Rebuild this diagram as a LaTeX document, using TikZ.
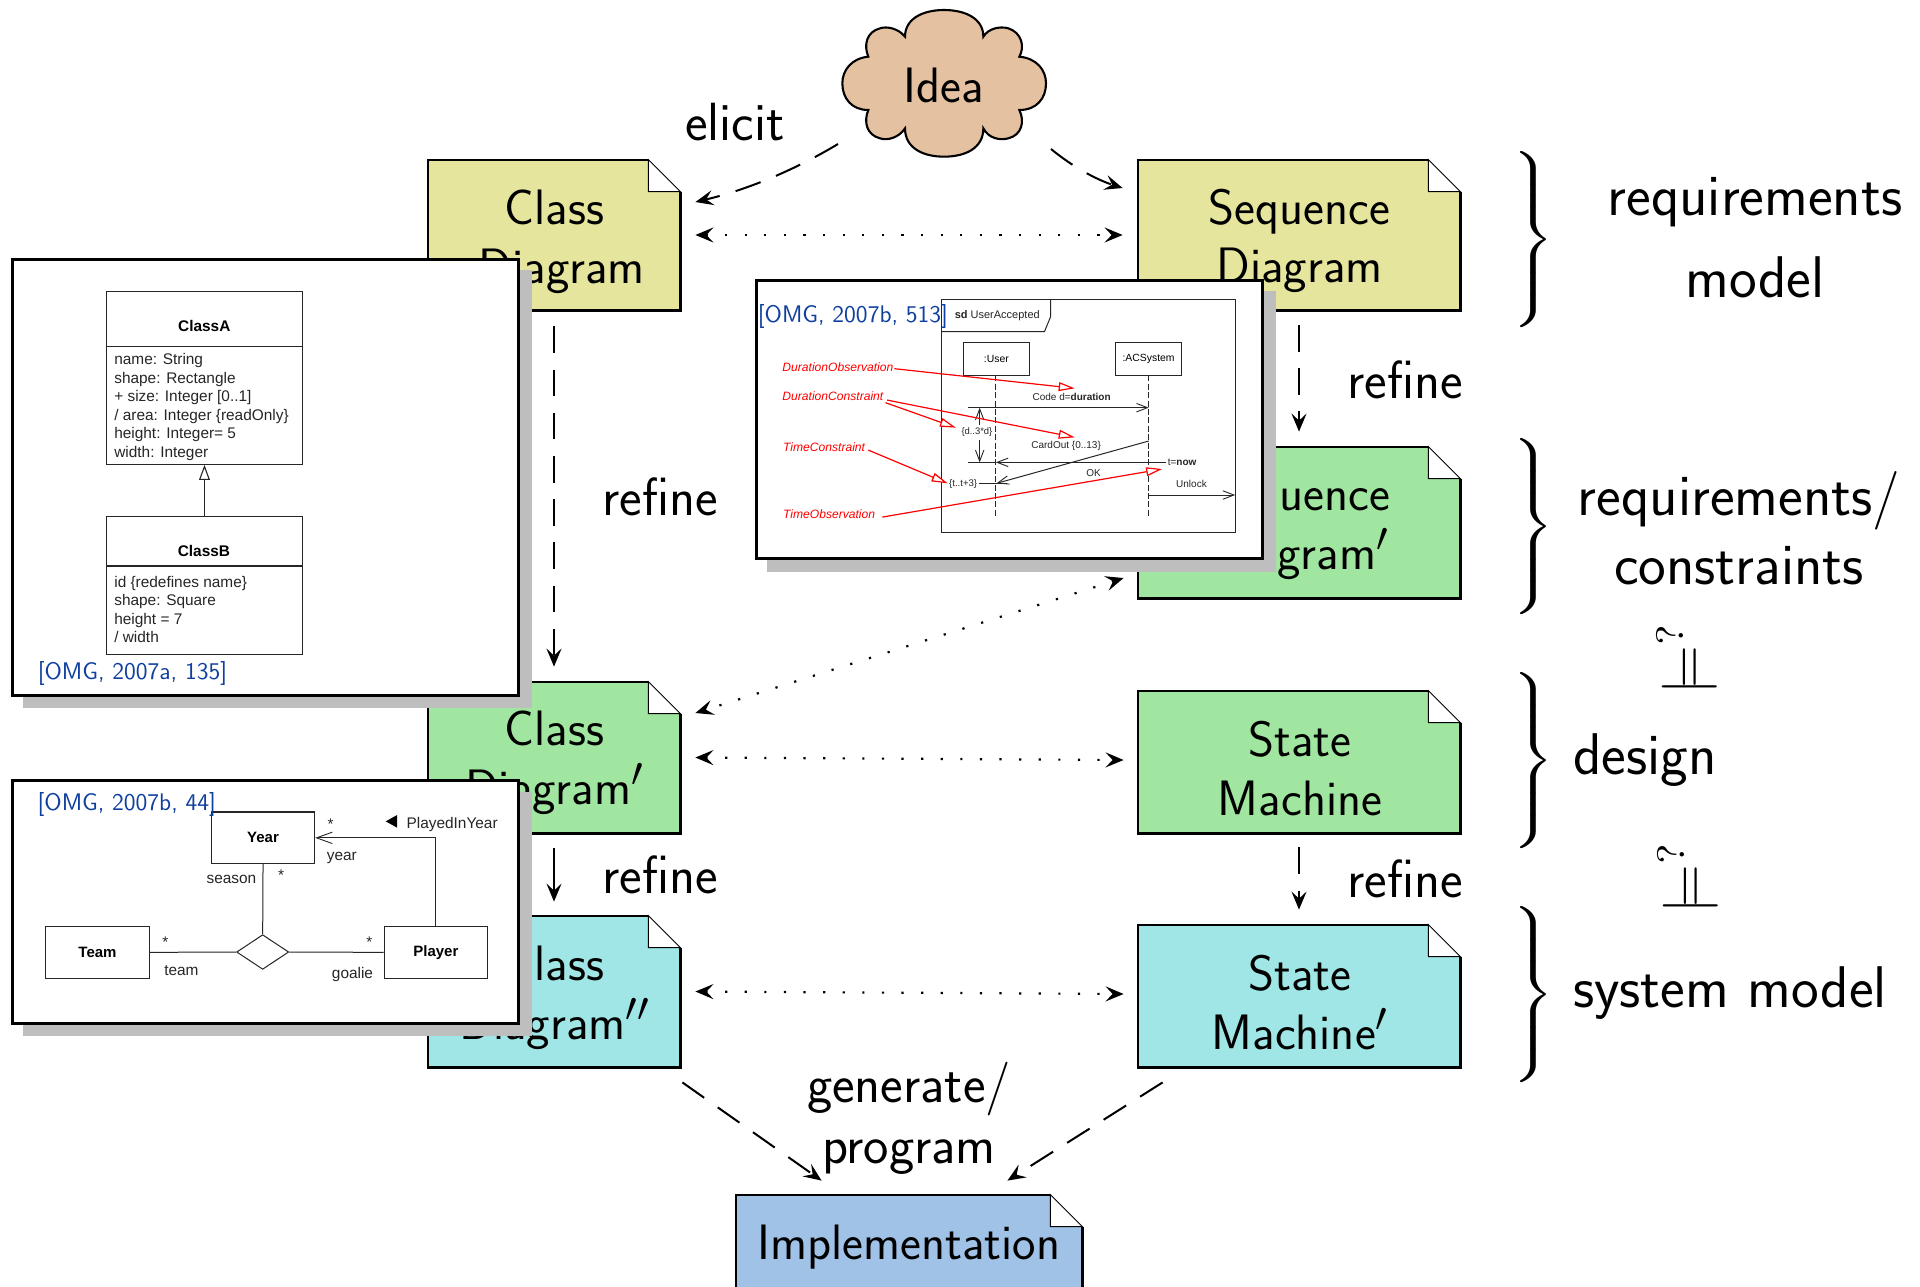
\documentclass[tikz,border=0pt]{standalone}
\usepackage{fontspec}
\usepackage{graphicx}
\usetikzlibrary{arrows.meta,shapes.geometric}
\newfontfamily\umlfont{Liberation Sans}
\definecolor{noteyellow}{HTML}{E5E59E}
\definecolor{notegreen}{HTML}{A0E6A0}
\definecolor{notecyan}{HTML}{A0E6E6}
\definecolor{noteblue}{HTML}{A0C2E6}
\definecolor{cloudtan}{HTML}{E4C1A0}
\definecolor{citeblue}{HTML}{0F3F9F}
\definecolor{shadowgray}{HTML}{BEBEBE}
\tikzset{
  bigtext/.style={font=\sffamily\fontsize{24.88}{29.4}\selectfont,align=center,inner sep=0pt},
  midtext/.style={font=\sffamily\fontsize{26.9}{30.5}\selectfont,align=center,inner sep=0pt},
  sidetext/.style={font=\sffamily\fontsize{29.4}{34.5}\selectfont,align=center,inner sep=0pt},
  dep/.style={line width=1pt,dash pattern=on 13.3pt off 8.3pt,-{Stealth[length=9pt,width=7.5pt,inset=3.5pt]}},
  refsolid/.style={line width=1pt,-{Stealth[length=9pt,width=7.5pt,inset=3.5pt]}},
  dotlink/.style={line width=1.1pt,dash pattern=on 1.1pt off 8.7pt,{Stealth[length=9pt,width=7.5pt,inset=3.5pt]}-{Stealth[length=9pt,width=7.5pt,inset=3.5pt]}},
  cite/.style={font=\sffamily\fontsize{12}{14}\selectfont,text=citeblue,inner sep=0pt},
  umlbox/.style={draw=black!85,line width=.55pt,fill=white,inner sep=0pt,font=\umlfont\bfseries\fontsize{7.5}{9}\selectfont},
  umltxt/.style={font=\umlfont\fontsize{7.7}{9.25}\selectfont,inner sep=0pt,align=left,text=black!85},
  umlb/.style={font=\umlfont\bfseries\fontsize{7.7}{9.3}\selectfont,inner sep=0pt},
  seqtxt/.style={font=\umlfont\fontsize{5.0}{6.5}\selectfont,inner sep=0pt,text=black!85},
  redtxt/.style={font=\umlfont\itshape\fontsize{6.05}{7.5}\selectfont,inner sep=0pt,text=red},
  redarrow/.style={draw=red,line width=.6pt,-{Triangle[fill=white,length=8pt,width=4.4pt,line width=.6pt]}},
  msg/.style={draw=black!85,line width=.5pt,-{Straight Barb[length=5.5pt,width=4.2pt,line width=.45pt]}},
  framebox/.style={draw=black,line width=1.4pt,fill=white},
  notefold/.style={line width=.45pt,fill=white},
  noteline/.style={line width=1.1pt},
}
% #1 name, #2 x0, #3 y0, #4 x1, #5 y1, #6 colour
\newcommand\notebody[6]{%
  \node[inner sep=0pt,minimum width={(#4-#2)*0.5pt},minimum height={(#5-#3)*0.5pt}] (#1) at ({(#2+#4)/2},{(#3+#5)/2}) {};
  \fill[#6] (#1.north west) -- ([xshift=-16pt]#1.north east) -- ([yshift=-16pt]#1.north east) -- (#1.south east) -- (#1.south west) -- cycle;
  \draw[notefold] ([xshift=-16pt]#1.north east) -- ([xshift=-16pt,yshift=-16pt]#1.north east) -- ([yshift=-16pt]#1.north east) -- cycle;
  \draw[noteline,line join=miter] ([yshift=-16pt]#1.north east) -- (#1.south east) -- (#1.south west) -- (#1.north west) -- ([xshift=-16pt]#1.north east);
}
\newcommand\inbox[7]{% name x0 y0 x1 y1 text (extra opts)
  \node[umlbox,minimum width={(#4-#2)*\sx pt},minimum height={(#5-#3)*\sy pt},#7] (#1) at ({(#2+#4)/2},{(#3+#5)/2}) {#6};
}
\newcommand\bracket[2]{% name, centre y
  \node[inner sep=0pt,anchor=east] (#1) at (1554.5,#2) {\scalebox{2.36}[1.84]{$\left.\rule[-22pt]{0pt}{44pt}\right\}$}};
}
\begin{document}
\begin{tikzpicture}[x=0.5pt,y=-0.5pt]
\path[use as bounding box] (0,0) rectangle (1920,1286);
\clip (0,0) rectangle (1920,1286);

% ---- note bodies
\notebody{cd}{428}{160}{680}{310}{noteyellow}
\notebody{sd}{1138}{160}{1460}{310}{noteyellow}
\notebody{sdp}{1138}{447}{1460}{598}{notegreen}
\notebody{cdp}{428}{682}{680}{833}{notegreen}
\notebody{sm}{1138}{691}{1460}{833}{notegreen}
\notebody{cdpp}{428}{916}{680}{1067}{notecyan}
\notebody{smp}{1138}{925}{1460}{1067}{notecyan}
\notebody{impl}{736}{1195}{1082}{1292}{noteblue}

\node[bigtext] (cdt) at (554.5,241.5) {Class\\\hspace*{7.3pt}Diagram};
\node[bigtext] (sdt) at (1299.5,241) {Sequence\\Diagram};
\node[bigtext] (sdpt) at (1299.5,527.5) {Sequence\\Diagram$'$};
\node[bigtext] (cdpt) at (554.5,763) {Class\\Diagram$'$};
\node[bigtext] (smt) at (1300,768.5) {State\\Machine};
\node[bigtext] (cdppt) at (554.5,997.5) {Class\\Diagram$''$};
\node[bigtext] (smpt) at (1300,1002.5) {State\\Machine$'$};
\node[bigtext] (implt) at (909,1247) {Implementation};

% ---- cloud
\begin{scope}[shift={(660,0)},x=0.16667pt,y=-0.16667pt]
\filldraw[fill=cloudtan,draw=black,line width=1.05pt]
 (735,110) .. controls (735,55) and (790,30) .. (852,30) .. controls (915,30) and (970,55) .. (970,110)
 .. controls (985,85) and (1020,78) .. (1045,85) .. controls (1085,98) and (1095,140) .. (1078,170)
 .. controls (1130,175) and (1158,210) .. (1158,250) .. controls (1158,295) and (1130,330) .. (1078,330)
 .. controls (1095,365) and (1085,405) .. (1045,415) .. controls (1020,422) and (985,415) .. (970,385)
 .. controls (970,445) and (915,470) .. (852,470) .. controls (790,470) and (735,445) .. (735,385)
 .. controls (715,415) and (680,422) .. (660,415) .. controls (620,405) and (610,365) .. (625,330)
 .. controls (575,330) and (547,295) .. (547,250) .. controls (547,210) and (575,175) .. (625,170)
 .. controls (610,135) and (620,95) .. (660,85) .. controls (680,78) and (715,85) .. (735,110) -- cycle;
\end{scope}
\node[bigtext] (idea) at (944,85) {Idea};

% ---- connectors
\draw[dep] ([xshift=-53pt,yshift=-29.5pt]idea.center) .. controls (793,171) and (746,190) .. ([xshift=7.5pt,yshift=16.5pt]cd.east);
\draw[dep] ([xshift=53.5pt,yshift=-32pt]idea.center) .. controls (1072.5,166.7) and (1096.5,179.7) .. ([xshift=-7.5pt,yshift=23.5pt]sd.west);
\draw[dotlink] ([xshift=7.5pt]cd.east) -- ([xshift=-7.5pt]sd.west);
\draw[dep] ([yshift=-8pt]cd.south) -- ([yshift=7.5pt]cdp.north);
\draw[dep] ([yshift=-7.25pt]sd.south) -- ([yshift=7.5pt]sdp.north);
\draw[dotlink] ([xshift=-7pt,yshift=-27.75pt]sdp.west) -- ([xshift=7.5pt,yshift=22.25pt]cdp.east);
\draw[dotlink] ([xshift=7.5pt]cdp.east) -- ([xshift=-7pt,yshift=1pt]sm.west);
\draw[refsolid] ([yshift=-7.5pt]cdp.south) -- ([yshift=7pt]cdpp.north);
\draw[dep] ([yshift=-7pt]sm.south) -- ([yshift=7.5pt]smp.north);
\draw[dotlink] ([xshift=7.5pt]cdpp.east) -- ([xshift=-7pt,yshift=1pt]smp.west);
\draw[dep] ([xshift=1pt,yshift=-7.5pt]cdpp.south east) -- ([xshift=43pt,yshift=7pt]impl.north west);
\draw[dep] ([xshift=12.5pt,yshift=-7.5pt]smp.south west) -- ([xshift=-37.5pt,yshift=7pt]impl.north east);

% ---- connector labels
\node[midtext] (elicit) at (735,122) {elicit};
\node[midtext] (ref1) at (660,497) {refine};
\node[midtext] (ref2) at (1405,380) {refine};
\node[midtext] (ref3) at (660,875) {refine};
\node[midtext] (ref4) at (1405,879) {refine};
\node[midtext] (gen) at (909,1118) {generate/\\program};

% ---- right column
\bracket{br1}{240.5}
\bracket{br2}{527.5}
\bracket{br3}{761.5}
\bracket{br4}{995.5}
\node[sidetext,font=\sffamily\fontsize{29.4}{41}\selectfont] (lreq) at (1755,238) {requirements\\model};
\node[sidetext] (lcon) at (1739,528) {requirements/\\constraints};
\node[sidetext] (ldes) at (1645,760) {design};
\node[sidetext] (lsys) at (1730,993) {system model};
\node[rotate=90,inner sep=0pt] (m1) at (1686.5,658.5) {\scalebox{2.75}{$\models^{?}$}};
\node[rotate=90,inner sep=0pt] (m2) at (1687.5,877.5) {\scalebox{2.75}{$\models^{?}$}};

% ---- inset 1: class generalisation
\begin{scope}[shift={(0,240)},x=0.178571pt,y=-0.166667pt]
\def\sx{0.178571}\def\sy{0.166667}
\fill[shadowgray] (64,90) rectangle (1490,1405);
\draw[framebox] (34,58) rectangle (1452,1366);
\inbox{classA}{298}{155}{847}{673}{}{}
\inbox{classB}{298}{830}{847}{1243}{}{}
\draw[draw=black!85,line width=.55pt] (298,320) -- (847,320);
\draw[draw=black!85,line width=.55pt] (298,978) -- (847,978);
\node[umlb] (ta) at (572,257) {ClassA};
\node[umlb] (tb) at (571,932) {ClassB};
\node[umltxt,anchor=north west] (aa) at (319,339) {name: String\\shape: Rectangle\\+ size: Integer [0..1]\\/ area: Integer \{readOnly\}\\height: Integer= 5\\width: Integer};
\node[umltxt,anchor=north west] (ab) at (319,1007) {id \{redefines name\}\\shape: Square\\height = 7\\/ width};
\draw[line width=.55pt,black!85,-{Triangle[fill=white,length=7.5pt,width=5.4pt,line width=.55pt]}] (classB.north) -- (classA.south);
\node[cite] (c1) at (371,1300) {[OMG, 2007a, 135]};
\end{scope}

% ---- inset 2: sequence diagram
\begin{scope}[shift={(740,270)},x=0.172176pt,y=-0.166667pt]
\def\sx{0.172176}\def\sy{0.166667}
\fill[shadowgray] (78,63) rectangle (1555,905);
\draw[framebox] (47,32) rectangle (1518,866);
\draw[line width=.5pt,black!85] (585,88) rectangle (1440,788);
\draw[line width=.5pt,black!85] (585,185) -- (884,185) -- (902,140) -- (902,88);
\node[seqtxt,font=\umlfont\fontsize{5.5}{6.5}\selectfont] (sdl) at (747,136) {\textbf{sd} UserAccepted};
\inbox{user}{649}{218}{840}{316}{\umlfont\mdseries\fontsize{5.2}{6.5}\selectfont :User}{}
\inbox{acs}{1091}{218}{1282}{316}{\raisebox{-.5pt}{\umlfont\mdseries\fontsize{5.2}{6.5}\selectfont :ACSystem}}{}
\coordinate (userend) at (743,740);
\coordinate (acsend) at (1187,740);
\draw[line width=.5pt,black!85,dash pattern=on 3pt off 1.2pt] (743,316) -- (userend);
\draw[line width=.5pt,black!85,dash pattern=on 3pt off 1.2pt] (1187,316) -- (acsend);
\node[seqtxt] (mcode) at (963,380) {Code d=\textbf{duration}};
\draw[msg] (663,413) -- (1187,413);
\node[seqtxt,font=\umlfont\fontsize{4.7}{6}\selectfont] (mdlab) at (688,486) {\{d..3*d\}};
\draw[msg] (696,465) -- (696,413);
\draw[msg] (696,510) -- (696,577);
\draw[msg] (1237,577) -- (743,577);
\draw[draw=black!85,line width=.5pt] (743,577) -- (663,577);
\node[seqtxt] (mnow) at (1284,576) {t=\textbf{now}};
\node[seqtxt] (mcard) at (947,527) {CardOut \{0..13\}};
\draw[msg] (1187,513) -- (745,640);
\node[seqtxt] (mok) at (1027,608) {OK};
\node[seqtxt,font=\umlfont\fontsize{4.8}{6}\selectfont] (mtlab) at (648,641) {\{t..t+3\}};
\draw[draw=black!85,line width=.5pt] (695,641) -- (775,641);
\node[seqtxt] (munl) at (1311,641) {Unlock};
\draw[msg] (1187,675) -- (1438,675);
\node[redtxt,anchor=west] (dobs) at (122,290) {DurationObservation};
\node[redtxt,anchor=west] (dcon) at (122,377) {DurationConstraint};
\node[redtxt,anchor=west] (tcon) at (124,530) {TimeConstraint};
\node[redtxt,anchor=west] (tobs) at (124,731) {TimeObservation};
\coordinate (dobsend) at (972,355);
\coordinate (dconend) at (972,502);
\coordinate (dconlab) at (627,473);
\coordinate (tconlab) at (603,640);
\coordinate (tobsend) at (1226,597);
\draw[redarrow] ([xshift=.3pt,yshift=-1pt]dobs.east) -- (dobsend);
\draw[redarrow] ([xshift=1.7pt,yshift=-2.2pt]dcon.east) -- (dconend);
\draw[redarrow] ([xshift=.9pt,yshift=-3.5pt]dcon.east) -- (dconlab);
\draw[redarrow] ([xshift=1.4pt,yshift=-1.7pt]tcon.east) -- (tconlab);
\draw[redarrow] ([xshift=3.4pt,yshift=-1.7pt]tobs.east) -- (tobsend);
\node[cite] (c2) at (328,139) {[OMG, 2007b, 513]};
\end{scope}

% ---- inset 3: ternary association
\begin{scope}[shift={(0,760)},x=0.178571pt,y=-0.166667pt]
\def\sx{0.178571}\def\sy{0.166667}
\fill[shadowgray] (64,95) rectangle (1490,828);
\draw[framebox] (34,62) rectangle (1452,790);
\inbox{year}{592}{156}{881}{311}{\raisebox{-.5pt}{Year}}{}
\inbox{team}{128}{499}{418}{655}{Team}{}
\inbox{player}{1076}{499}{1365}{655}{Player}{}
\node[draw=black!85,line width=.5pt,diamond,inner sep=0pt,minimum width={146*\sx pt},minimum height={104*\sy pt},fill=white,aspect=1.5] (assoc) at (735.5,576) {};
\draw[line width=.5pt,black!85] (year.south) -- (assoc.north);
\draw[line width=.5pt,black!85] (team.east) -- (assoc.west);
\draw[line width=.5pt,black!85] (player.west) -- (assoc.east);
\draw[line width=.5pt,black!85,-{Straight Barb[length=7.9pt,width=5.7pt,line width=.45pt]}] (player.north) |- (year.east);
\node[umltxt] (s1) at (926,192) {*};
\node[umltxt] (s2) at (787,347) {*};
\node[umltxt] (s3) at (463,548) {*};
\node[umltxt] (s4) at (1034,548) {*};
\node[umltxt] (ly) at (957,295) {year};
\node[umltxt] (ls) at (648,357) {season};
\node[umltxt] (lt) at (508,633) {team};
\node[umltxt] (lg) at (987,643) {goalie};
\fill[black] (1080,184) -- (1112,165) -- (1112,203) -- cycle;
\node[umltxt] (lp) at (1266,194) {PlayedInYear};
\node[cite] (c3) at (355,133) {[OMG, 2007b, 44]};
\end{scope}
\end{tikzpicture}
\end{document}
